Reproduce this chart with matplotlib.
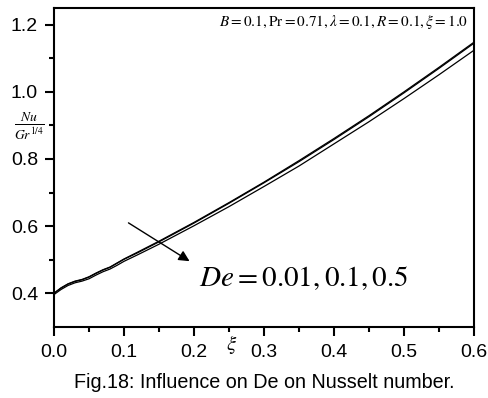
import numpy as np
import matplotlib
matplotlib.use("Agg")
import matplotlib.pyplot as plt

plt.rcParams['mathtext.fontset'] = 'stix'
plt.rcParams['font.family'] = ['Liberation Sans', 'DejaVu Sans']

xi = [0.00, 0.01, 0.02, 0.03, 0.04, 0.05, 0.06, 0.07, 0.08, 0.09, 0.10,
      0.12, 0.15, 0.20, 0.25, 0.30, 0.35, 0.40, 0.45, 0.50, 0.55, 0.60]
nu_de001 = [0.400, 0.416, 0.428, 0.436, 0.441, 0.449, 0.460, 0.470, 0.478, 0.490, 0.502,
            0.523, 0.555, 0.611, 0.670, 0.731, 0.795, 0.861, 0.929, 1.000, 1.073, 1.148]
nu_de01 = [0.400, 0.415, 0.427, 0.435, 0.440, 0.448, 0.459, 0.469, 0.477, 0.489, 0.501,
           0.521, 0.553, 0.609, 0.668, 0.729, 0.792, 0.858, 0.926, 0.997, 1.070, 1.145]
nu_de05 = [0.396, 0.411, 0.423, 0.431, 0.436, 0.443, 0.454, 0.464, 0.472, 0.483, 0.495,
           0.515, 0.546, 0.601, 0.658, 0.718, 0.779, 0.845, 0.911, 0.980, 1.051, 1.124]

fig = plt.figure(figsize=(4.88, 3.98), dpi=100)
ax = fig.add_axes([0.1107, 0.179, 0.8606, 0.801])

for y in (nu_de001, nu_de01, nu_de05):
    ax.plot(xi, y, color='black', lw=0.9)

ax.set_xlim(0, 0.6)
ax.set_ylim(0.3, 1.25)
ax.set_xticks([0.0, 0.1, 0.2, 0.3, 0.4, 0.5, 0.6])
ax.set_xticks(np.arange(0.05, 0.6, 0.1), minor=True)
ax.set_yticks([0.4, 0.6, 0.8, 1.0, 1.2])
ax.set_yticks([0.5, 0.7, 0.9, 1.1], minor=True)
ax.tick_params(which='major', direction='out', length=6.5, width=1.5, labelsize=14,
               top=False, right=False)
ax.tick_params(axis='x', which='major', pad=6)
ax.tick_params(axis='y', which='major', pad=5)
ax.tick_params(which='minor', direction='out', length=3.8, width=1.5,
               top=False, right=False)
for s in ax.spines.values():
    s.set_linewidth(1.5)

ax.annotate('', xy=(0.197, 0.491), xytext=(0.103, 0.614),
            arrowprops=dict(arrowstyle='-|>', color='black', lw=1.0,
                            mutation_scale=16))
ax.text(0.207, 0.445, r'$De = 0.01, 0.1, 0.5$', fontsize=21, va='center', ha='left')

ax.text(0.985, 0.985, r'$B=0.1,\mathrm{Pr}=0.71,\lambda=0.1,R=0.1,\xi=1.0$',
        transform=ax.transAxes, fontsize=11, ha='right', va='top')

fig.text(29 / 488, 1 - 126 / 398, r'$\frac{Nu}{Gr^{1/4}}$', fontsize=14,
         ha='center', va='center')
fig.text(232 / 488, 1 - 344 / 398, r'$\xi$', fontsize=15, ha='center', va='center')
fig.text(264 / 488, 1 - 383 / 398, 'Fig.18: Influence on De on Nusselt number.',
         fontsize=14.2, ha='center', va='center')

fig.savefig('out.png', dpi=100)
